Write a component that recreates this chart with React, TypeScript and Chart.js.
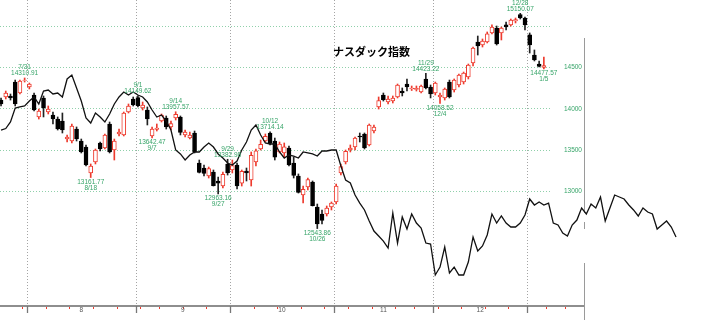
import React, { useEffect, useRef } from "react";
import { Chart, registerables } from "chart.js";

Chart.register(...registerables);

// ---- trading days (categories) ----
const dates = [
  "7/24", "7/25", "7/26", "7/27", "7/28", "7/31",
  "8/1", "8/2", "8/3", "8/4", "8/7", "8/8", "8/9", "8/10", "8/11", "8/14", "8/15", "8/16", "8/17", "8/18", "8/21", "8/22", "8/23", "8/24", "8/25", "8/28", "8/29", "8/30", "8/31",
  "9/1", "9/5", "9/6", "9/7", "9/8", "9/11", "9/12", "9/13", "9/14", "9/15", "9/18", "9/19", "9/20", "9/21", "9/22", "9/25", "9/26", "9/27", "9/28", "9/29",
  "10/2", "10/3", "10/4", "10/5", "10/6", "10/9", "10/10", "10/11", "10/12", "10/13", "10/16", "10/17", "10/18", "10/19", "10/20", "10/23", "10/24", "10/25", "10/26", "10/27", "10/30", "10/31",
  "11/1", "11/2", "11/3", "11/6", "11/7", "11/8", "11/9", "11/10", "11/13", "11/14", "11/15", "11/16", "11/17", "11/20", "11/21", "11/22", "11/24", "11/27", "11/28", "11/29", "11/30",
  "12/1", "12/4", "12/5", "12/6", "12/7", "12/8", "12/11", "12/12", "12/13", "12/14", "12/15", "12/18", "12/19", "12/20", "12/21", "12/22", "12/26", "12/27", "12/28", "12/29",
  "1/2", "1/3", "1/4", "1/5",
];

// ---- NASDAQ OHLC ----
const openP = [
  14100, 14137, 14149, 14318, 14185, 14336,
  14258, 14161, 13895, 14125, 13955, 13919, 13870, 13846, 13628, 13604, 13749, 13604, 13531, 13217, 13350, 13580, 13519, 13810, 13495, 13689, 13677, 13955, 14113,
  14130, 14004, 13979, 13665, 13743, 13846, 13883, 13774, 13883, 13895, 13677, 13640, 13701, 13338, 13277, 13180, 13229, 13120, 13059, 13326,
  13253, 13313, 13095, 13241, 13132, 13350, 13507, 13604, 13701, 13604, 13471, 13459, 13519, 13338, 13180, 12950, 13047, 13108, 12805, 12720, 12720, 12805,
  12866, 13217, 13350, 13495, 13531, 13665, 13689, 13556, 13725, 14016, 14161, 14076, 14088, 14137, 14209, 14294, 14234, 14227, 14197, 14355, 14258,
  14185, 14137, 14125, 14318, 14221, 14282, 14318, 14379, 14548, 14803, 14766, 14803, 14912, 14972, 14912, 15009, 15009, 15057, 15136, 15093,
  14888, 14645, 14536, 14494,
];
const highP = [
  14125, 14209, 14173, 14342, 14342, 14367,
  14306, 14185, 13991, 14149, 14028, 13955, 13895, 13943, 13677, 13810, 13774, 13628, 13556, 13326, 13507, 13592, 13689, 13834, 13628, 13749, 13955, 14052, 14137,
  14150, 14076, 14016, 13774, 13810, 13931, 13907, 13846, 13958, 13907, 13737, 13713, 13725, 13374, 13313, 13289, 13253, 13168, 13229, 13383,
  13374, 13338, 13253, 13277, 13471, 13507, 13616, 13689, 13714, 13640, 13592, 13580, 13544, 13410, 13205, 13059, 13156, 13120, 12841, 12769, 12817, 12866,
  13083, 13326, 13495, 13556, 13652, 13701, 13701, 13810, 13798, 14137, 14185, 14149, 14149, 14294, 14246, 14355, 14270, 14270, 14282, 14423, 14282,
  14318, 14185, 14246, 14342, 14355, 14415, 14439, 14536, 14742, 14875, 14839, 14924, 15009, 14996, 14984, 15045, 15081, 15093, 15150, 15105,
  14912, 14706, 14573, 14621,
];
const lowP = [
  14028, 14113, 14100, 14028, 14173, 14318,
  14234, 13967, 13870, 13895, 13931, 13810, 13737, 13701, 13592, 13580, 13604, 13459, 13301, 13162, 13326, 13483, 13507, 13459, 13374, 13665, 13665, 13943, 14028,
  14016, 13979, 13798, 13642, 13725, 13834, 13749, 13737, 13858, 13677, 13652, 13628, 13459, 13217, 13180, 13156, 13059, 12963, 13035, 13192,
  13217, 13023, 13059, 13120, 13059, 13301, 13495, 13592, 13556, 13374, 13459, 13410, 13301, 13156, 12974, 12853, 13011, 12817, 12544, 12599, 12696, 12769,
  12841, 13192, 13326, 13471, 13495, 13592, 13507, 13544, 13701, 13991, 14088, 14052, 14064, 14125, 14149, 14209, 14215, 14209, 14185, 14234, 14125,
  14161, 14058, 14100, 14125, 14197, 14258, 14294, 14355, 14512, 14645, 14742, 14791, 14900, 14766, 14827, 14948, 14996, 15033, 15081, 14948,
  14669, 14573, 14500, 14478,
];
const closeP = [
  14052, 14185, 14125, 14052, 14330, 14342,
  14294, 13979, 13967, 14004, 13991, 13870, 13749, 13737, 13652, 13786, 13628, 13471, 13313, 13301, 13495, 13507, 13677, 13471, 13604, 13713, 13943, 14028, 14040,
  14032, 14040, 13870, 13749, 13761, 13919, 13774, 13814, 13926, 13708, 13713, 13677, 13471, 13224, 13212, 13271, 13063, 13092, 13201, 13219,
  13307, 13059, 13236, 13219, 13431, 13484, 13563, 13660, 13574, 13407, 13568, 13534, 13314, 13186, 12983, 13018, 13138, 12821, 12599, 12642, 12793, 12853,
  13059, 13294, 13478, 13519, 13640, 13652, 13519, 13798, 13774, 14094, 14104, 14113, 14125, 14282, 14185, 14258, 14246, 14241, 14270, 14246, 14173,
  14306, 14161, 14234, 14137, 14342, 14403, 14427, 14524, 14730, 14754, 14815, 14900, 14984, 14778, 14972, 14984, 15069, 15075, 15093, 15009,
  14766, 14585, 14506, 14518,
];

// ---- black comparison line (same daily spacing, runs past the last candle) ----
const overlayLine = [
  13737, 13755, 13834, 14003, 14016, 14028, 14088, 14137, 14052, 14209,
  14221, 14173, 14185, 14137, 14355, 14403, 14246, 14088, 13882, 13822,
  13943, 13894, 13834, 13931, 14052, 14137, 14197, 14161, 14197, 14161,
  14137, 14076, 13979, 13894, 13919, 13846, 13737, 13495, 13447, 13374,
  13434, 13471, 13471, 13531, 13580, 13531, 13447, 13398, 13338, 13313,
  13362, 13495, 13592, 13737, 13798, 13677, 13580, 13568, 13568, 13471,
  13398, 13434, 13422, 13398, 13471, 13459, 13447, 13422, 13483, 13483,
  13495, 13495, 13301, 13132, 13095, 12950, 12853, 12769, 12635, 12514,
  12454, 12393, 12308, 12732, 12369, 12684, 12538, 12720, 12611, 12551,
  12369, 12357, 11982, 12078, 12321, 12006, 12078, 11982, 11982, 12139,
  12442, 12272, 12333, 12466, 12720, 12611, 12696, 12611, 12563, 12563,
  12611, 12708, 12902, 12829, 12865, 12829, 12853, 12611, 12587, 12490,
  12454, 12587, 12647, 12793, 12720, 12841, 12793, 12926, 12635, 12793,
  12950, 12926, 12902, 12829, 12769, 12696, 12793, 12744, 12720, 12538,
  12587, 12635, 12563, 12442,
];

// ---- axes ----
const priceTicks = [13000, 13500, 14000, 14500];
const gridPrices = [13000, 13500, 14000, 14500, 15000];
const monthLabels = ["8", "9", "10", "11", "12"];
const monthStartDates = ["8/1", "9/1", "10/2", "11/1", "12/1", "1/2"];
const weekStarts = [5, 10, 15, 20, 25, 30, 34, 39, 44, 49, 54, 59, 64, 69, 74, 79, 84, 88, 93, 98, 103, 108, 112, 116, 120];

// ---- extreme-value annotations ----
const markDates = ["7/31", "8/18", "9/1", "9/7", "9/14", "9/27", "9/29", "10/12", "10/26", "11/29", "12/4", "12/28", "1/5"];
const markTexts = ["14310.91", "13161.77", "14149.62", "13642.47", "13957.57", "12963.16", "13382.98", "13714.14", "12543.86", "14423.22", "14058.52", "15150.07", "14477.57"];
const markKinds = ["high", "low", "high", "low", "high", "low", "high", "high", "low", "high", "low", "high", "low"];

const TITLE = "ナスダック指数";

const UP = "#ee3b2e";
const DOWN = "#000000";
const GREEN_TEXT = "#36a468";
const GRID_GREEN = "#8fd0aa";
const GRID_GRAY = "#a4a4a4";
const AXIS_GRAY = "#8e8e8e";
const SMALL_FONT = "6.5px 'Liberation Sans'";

const X_MIN = -0.22;
const X_MAX = 149.14;
const Y_MIN = 11437;
const Y_MAX = 15311;
const AXIS_Y = 306;
const PANEL_END = 123.5;
const GRID_END = 116.3;

const idx = (d: string) => dates.indexOf(d);
const isUp = (i: number) => closeP[i] >= openP[i];

const decorPlugin = {
  id: "decor",
  beforeDatasetsDraw(chart: any) {
    const ctx = chart.ctx as CanvasRenderingContext2D;
    const xs = chart.scales.x;
    const ys = chart.scales.y;
    ctx.save();
    ctx.lineWidth = 1;
    ctx.setLineDash([1, 2]);
    ctx.strokeStyle = GRID_GREEN;
    const gx1 = xs.getPixelForValue(GRID_END);
    for (const p of gridPrices) {
      const y = Math.round(ys.getPixelForValue(p)) + 0.5;
      ctx.beginPath();
      ctx.moveTo(0, y);
      ctx.lineTo(gx1, y);
      ctx.stroke();
    }
    ctx.strokeStyle = GRID_GRAY;
    for (const d of monthStartDates) {
      const x = Math.round(xs.getPixelForValue(idx(d) - 0.5)) + 0.5;
      ctx.beginPath();
      ctx.moveTo(x, 0);
      ctx.lineTo(x, AXIS_Y);
      ctx.stroke();
    }
    ctx.setLineDash([]);
    const ax1 = Math.round(xs.getPixelForValue(PANEL_END)) + 0.5;
    // bottom axis
    ctx.strokeStyle = AXIS_GRAY;
    ctx.lineWidth = 2;
    ctx.beginPath();
    ctx.moveTo(0, AXIS_Y);
    ctx.lineTo(ax1, AXIS_Y);
    ctx.stroke();
    // right edge of the price panel
    ctx.lineWidth = 1;
    ctx.strokeStyle = "#9a9a9a";
    for (const [a, b] of [[38, 213], [222, 229], [263, 320]]) {
      ctx.beginPath();
      ctx.moveTo(ax1, a);
      ctx.lineTo(ax1, b);
      ctx.stroke();
    }
    // weekly ticks
    ctx.strokeStyle = UP;
    for (const w of weekStarts) {
      const x = Math.round(xs.getPixelForValue(w - 0.5)) + 0.5;
      ctx.beginPath();
      ctx.moveTo(x, AXIS_Y + 1);
      ctx.lineTo(x, AXIS_Y + 3);
      ctx.stroke();
    }
    // month ticks
    ctx.strokeStyle = "#777";
    ctx.lineWidth = 1.3;
    for (const d of monthStartDates) {
      const x = Math.round(xs.getPixelForValue(idx(d) - 0.5)) + 0.5;
      ctx.beginPath();
      ctx.moveTo(x, AXIS_Y);
      ctx.lineTo(x, AXIS_Y + 7);
      ctx.stroke();
    }
    // month labels
    ctx.fillStyle = "#555";
    ctx.font = SMALL_FONT;
    ctx.textAlign = "center";
    ctx.textBaseline = "middle";
    monthLabels.forEach((m, k) => {
      const a = idx(monthStartDates[k]) - 0.5;
      const b = idx(monthStartDates[k + 1]) - 0.5;
      ctx.fillText(m, xs.getPixelForValue((a + b) / 2), AXIS_Y + 4.5);
    });
    ctx.restore();
  },
  afterDatasetsDraw(chart: any) {
    const ctx = chart.ctx as CanvasRenderingContext2D;
    const xs = chart.scales.x;
    const ys = chart.scales.y;
    ctx.save();
    ctx.font = SMALL_FONT;
    ctx.fillStyle = GREEN_TEXT;
    ctx.textBaseline = "middle";
    // price labels
    ctx.textAlign = "right";
    const lx = xs.getPixelForValue(PANEL_END) - 2;
    for (const p of priceTicks) {
      ctx.fillText(String(p), lx, ys.getPixelForValue(p) + 0.5);
    }
    // annotations
    ctx.textAlign = "center";
    markDates.forEach((d, k) => {
      const i = idx(d);
      const x = xs.getPixelForValue(i);
      if (markKinds[k] === "high") {
        const y = ys.getPixelForValue(highP[i]);
        ctx.fillText(markTexts[k], x, y - 4.5);
        ctx.fillText(d, x, y - 10.5);
      } else {
        const y = ys.getPixelForValue(lowP[i]);
        ctx.fillText(markTexts[k], x, y + 4.5);
        ctx.fillText(d, x, y + 10.5);
      }
    });
    // title
    ctx.fillStyle = "#000";
    ctx.textAlign = "left";
    ctx.font = "bold 11px 'Noto Sans CJK JP'";
    ctx.fillText(TITLE, 333, 52);
    ctx.restore();
  },
};

export default function App() {
  const ref = useRef<HTMLCanvasElement | null>(null);
  useEffect(() => {
    if (!ref.current) return;
    const ids = dates.map((_, i) => i);
    const wickData = ids.map((i) => ({ x: i, y: [lowP[i], highP[i]] }));
    const bodyData = ids.map((i) => ({ x: i, y: [openP[i], closeP[i]] }));
    const lineData = overlayLine.map((v, i) => ({ x: i, y: v }));
    const pick = (c: any, up: string, down: string) =>
      c.dataIndex == null ? down : isUp(c.dataIndex) ? up : down;
    const chart = new Chart(ref.current, {
      type: "bar",
      data: {
        datasets: [
          {
            type: "line",
            data: lineData as any,
            borderColor: "#111",
            borderWidth: 1.3,
            pointRadius: 0,
            tension: 0,
            order: 0,
          } as any,
          {
            type: "bar",
            data: bodyData as any,
            backgroundColor: (c: any) => pick(c, "#ffffff", DOWN),
            borderColor: (c: any) => pick(c, UP, DOWN),
            borderWidth: 1,
            borderSkipped: false,
            barThickness: 4,
            grouped: false,
            order: 1,
          } as any,
          {
            type: "bar",
            data: wickData as any,
            backgroundColor: (c: any) => pick(c, UP, "#222"),
            borderWidth: 0,
            barThickness: 1,
            grouped: false,
            order: 2,
          } as any,
        ],
      },
      options: {
        responsive: false,
        maintainAspectRatio: false,
        devicePixelRatio: 1,
        animation: false,
        events: [],
        layout: { padding: 0 },
        plugins: { legend: { display: false }, tooltip: { enabled: false } },
        scales: {
          x: { type: "linear", min: X_MIN, max: X_MAX, offset: false, display: false },
          y: { type: "linear", min: Y_MIN, max: Y_MAX, display: false },
        },
      } as any,
      plugins: [decorPlugin],
    });
    return () => chart.destroy();
  }, []);
  return (
    <div style={{ position: "absolute", left: 0, top: 0, width: 705, height: 320, background: "#fff" }}>
      <canvas ref={ref} width={705} height={320} style={{ display: "block", width: 705, height: 320 }} />
    </div>
  );
}
